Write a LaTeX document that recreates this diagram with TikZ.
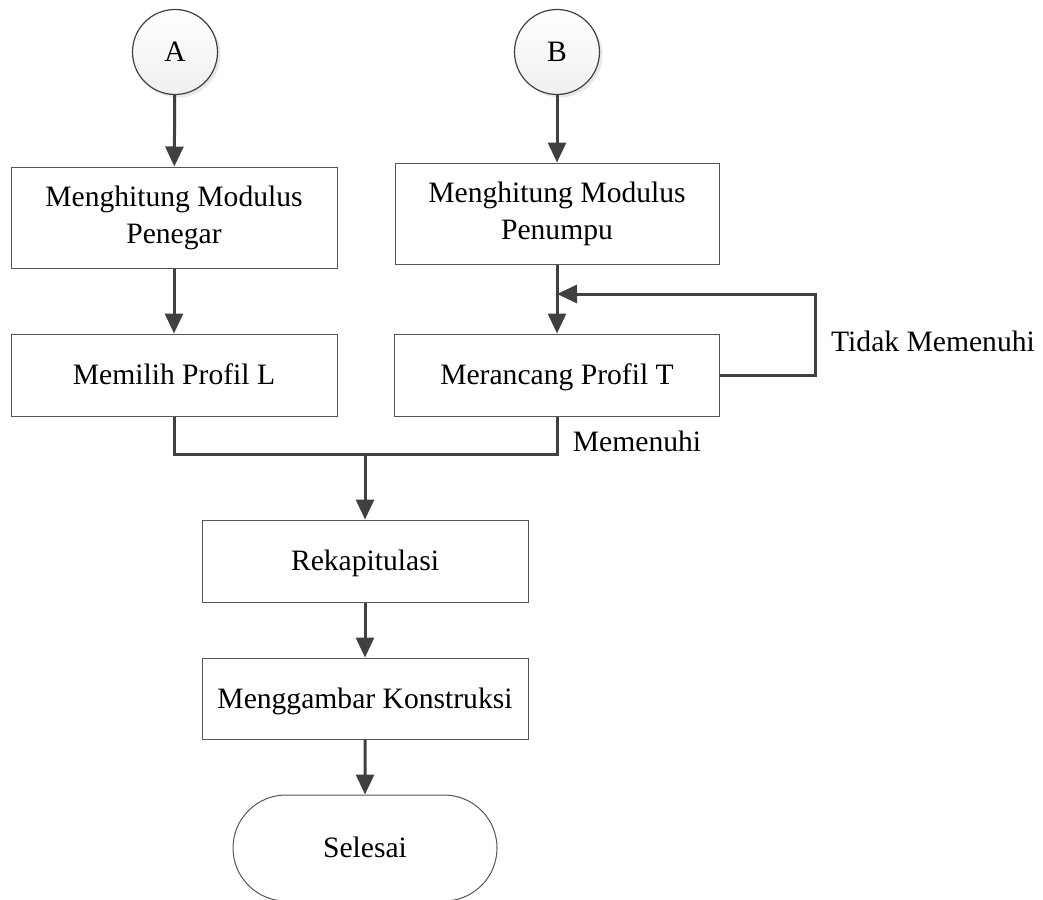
\documentclass[tikz,border=0pt]{standalone}
\usepackage{fontspec}
\setmainfont{Liberation Serif}
\usetikzlibrary{arrows.meta,shapes.misc,shadows}
\definecolor{lncol}{HTML}{404040}
\definecolor{bdcol}{HTML}{555555}
\begin{document}
\begin{tikzpicture}[x=0.5pt,y=-0.5pt,
  every node/.style={font=\fontsize{14.8}{18.5}\selectfont, text=black},
  procbox/.style={draw=bdcol, line width=0.5pt, fill=white, inner sep=0pt, align=center},
  oneline/.style={text height=9.9pt, text depth=0pt},
  conn/.style={draw=lncol, fill=white, line width=0.6pt, circle, minimum size=42.5pt, inner sep=0pt,
    top color=white, bottom color=gray!12,
    drop shadow={opacity=0.18, shadow xshift=1.5pt, shadow yshift=-1.5pt}},
  term/.style={draw=bdcol, line width=0.5pt, rounded rectangle, minimum width=132pt, minimum height=53pt, inner sep=0pt},
  arr/.style={draw=lncol, line width=1.5pt, -{Triangle[length=10pt,width=9pt]}},
  ln/.style={draw=lncol, line width=1.5pt},
  lbl/.style={inner sep=0pt}]
\useasboundingbox (0,0) rectangle (1043,899);
\node[conn, oneline] (A) at (175,52) {A};
\node[conn, oneline] (B) at (557,52) {B};
\node[procbox, minimum width=163pt, minimum height=50.5pt] (b1) at (174,217.5) {Menghitung Modulus\\Penegar};
\node[procbox, minimum width=162pt, minimum height=50.5pt] (b2) at (557,213.5) {Menghitung Modulus\\Penumpu};
\node[procbox, oneline, minimum width=163pt, minimum height=41pt] (b3) at (174,375) {Memilih Profil L};
\node[procbox, oneline, minimum width=162.5pt, minimum height=41pt] (b4) at (557,375) {Merancang Profil T};
\node[procbox, oneline, minimum width=163pt, minimum height=41pt] (rek) at (365,561) {Rekapitulasi};
\node[procbox, oneline, minimum width=163pt, minimum height=40.5pt] (mk) at (365,698.5) {Menggambar Konstruksi};
\node[term, oneline] (sel) at (365,848) {Selesai};
\node[lbl] (tm) at (933,341) {Tidak Memenuhi};
\node[lbl] (mm) at (637,441) {Memenuhi};
\coordinate (lr) at (815,294);
\coordinate (lj) at (557,294);
\coordinate (mj) at (365,454);
\draw[arr] (A) -- (b1);
\draw[arr] (B) -- (b2);
\draw[arr] (b1) -- (b3);
\draw[arr] (b2) -- (b4);
\draw[arr] (b4.east) -| (lr) -- (lj);
\draw[ln] (b3.south) |- (mj);
\draw[ln] (b4.south) |- (mj);
\draw[arr] (mj) -- (rek);
\draw[arr] (rek) -- (mk);
\draw[arr] (mk) -- (sel);
\end{tikzpicture}
\end{document}
